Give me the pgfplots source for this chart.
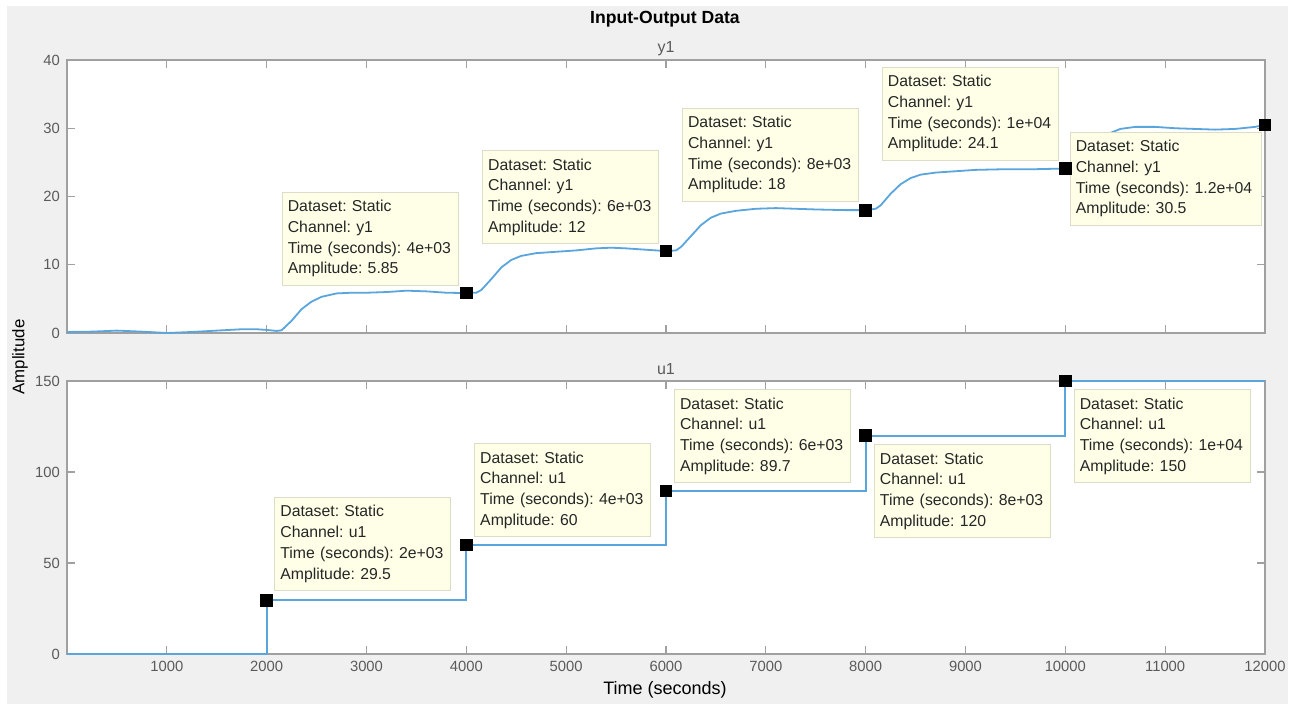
\documentclass[border=0pt]{standalone}
\usepackage{pgfplots}
\pgfplotsset{compat=1.18}
\usepackage{fontspec}
\setmainfont{Liberation Sans}
\frenchspacing
\hfuzz=5pt
\definecolor{figbg}{HTML}{F0F0F0}
\definecolor{axcol}{HTML}{A0A0A0}
\definecolor{tickcol}{HTML}{5A5A5A}
\definecolor{linecol}{HTML}{5AA5DC}
\definecolor{tipbg}{HTML}{FFFFE8}
\definecolor{tipborder}{HTML}{DCDCC8}
\tikzset{
 tip/.style={draw=tipborder, fill=tipbg, line width=0.5pt, anchor=north west,
   text width=82.5pt, minimum width=88pt, minimum height=46.5pt,
   inner xsep=2.75pt, inner ysep=2pt, align=left,
   font=\fontsize{7.9}{10.35}\selectfont, text=black!85},
}
\pgfplotsset{
 every axis title shift=0pt,
 myaxis/.style={
  scale only axis, width=599pt, height=136.5pt,
  xmin=0, xmax=12000,
  xtick={1000,2000,...,12000},
  axis line style={axcol, line width=0.6pt},
  major tick style={axcol, line width=0.6pt},
  major tick length=4pt,
  tick align=inside,
  tick pos=both,
  ticklabel style={font=\fontsize{7.4}{8}\selectfont, text=tickcol},
  /pgf/number format/assume math mode=true,
  scaled x ticks=false,
  scaled y ticks=false,
  xticklabel style={/pgf/number format/1000 sep={}},
  axis background/.style={fill=white},
  clip=false,
  title style={at={(0.5,1)}, anchor=base, yshift=3.5pt, font=\fontsize{8}{9}\selectfont, text=tickcol},
 },
 dmark/.style={only marks, mark=square*, mark size=2.9pt, mark options={fill=black, draw=black}},
}
\begin{document}
\begin{tikzpicture}
\fill[white] (0,0) rectangle (649pt,352pt);
\fill[figbg] (3.5pt,0) rectangle (644pt,349pt);
\node[font=\bfseries\fontsize{8.8}{10}\selectfont, anchor=base] at (332.5pt,340pt) {Input-Output Data};
\node[rotate=90, font=\fontsize{8.4}{10}\selectfont] at (10pt,173.5pt) {Amplitude};
\node[font=\fontsize{9}{10}\selectfont] at (332.5pt,7pt) {Time (seconds)};

\begin{axis}[myaxis, at={(33.5pt,185.5pt)}, anchor=south west,
  ymin=0, ymax=40, ytick={0,10,20,30,40}, xticklabels={}, title={y1}]
\addplot[linecol, line width=0.9pt] coordinates {
(0,0.15) (250,0.2) (500,0.35) (750,0.2) (1000,0.0) (1250,0.15) (1500,0.35)
(1750,0.55) (1900,0.55) (2000,0.45) (2100,0.3) (2150,0.4) (2250,1.8)
(2350,3.5) (2450,4.6) (2550,5.3) (2700,5.8) (2850,5.9) (3000,5.9)
(3200,6.0) (3400,6.2) (3600,6.1) (3800,5.9) (4000,5.85) (4100,5.9)
(4150,6.3) (4250,7.9) (4350,9.6) (4450,10.7) (4550,11.3) (4700,11.7)
(4900,11.9) (5100,12.1) (5300,12.4) (5450,12.5) (5600,12.4) (5800,12.2)
(6000,12.0) (6100,12.1) (6150,12.6) (6250,14.2) (6350,15.8) (6450,16.9)
(6550,17.5) (6700,17.9) (6900,18.2) (7100,18.3) (7300,18.2) (7500,18.1)
(7800,18.0) (8000,18.0) (8100,18.2) (8150,18.7) (8250,20.4) (8350,21.8)
(8450,22.7) (8550,23.2) (8700,23.5) (8900,23.7) (9100,23.9) (9400,24.0)
(9700,24.0) (10000,24.1) (10100,24.3) (10150,24.8) (10250,26.5) (10350,28.1)
(10450,29.3) (10550,29.9) (10700,30.2) (10900,30.2) (11100,30.0) (11300,29.9)
(11500,29.8) (11700,29.9) (11900,30.2) (12000,30.5)
};
\node[tip] at (axis cs:2152,20.7) {Dataset: Static\\Channel: y1\\Time (seconds): 4e+03\\Amplitude: 5.85};
\node[tip] at (axis cs:4159,26.8) {Dataset: Static\\Channel: y1\\Time (seconds): 6e+03\\Amplitude: 12};
\node[tip] at (axis cs:6161,33.0) {Dataset: Static\\Channel: y1\\Time (seconds): 8e+03\\Amplitude: 18};
\node[tip] at (axis cs:8163,39.0) {Dataset: Static\\Channel: y1\\Time (seconds): 1e+04\\Amplitude: 24.1};
\node[tip, text width=90pt, minimum width=95.5pt] at (axis cs:10045,29.5) {Dataset: Static\\Channel: y1\\Time (seconds): 1.2e+04\\Amplitude: 30.5};
\addplot[dmark] coordinates {(4000,5.85) (6000,12) (8000,18) (10000,24.1) (12000,30.5)};
\end{axis}

\begin{axis}[myaxis, at={(33.5pt,25pt)}, anchor=south west,
  ymin=0, ymax=150, ytick={0,50,100,150}, title={u1}]
\addplot[linecol, line width=0.9pt, const plot mark left] coordinates {
(0,0) (2000,29.5) (4000,60) (6000,89.7) (8000,120) (10000,150) (12000,150)
};
\node[tip] at (axis cs:2077,86.3) {Dataset: Static\\Channel: u1\\Time (seconds): 2e+03\\Amplitude: 29.5};
\node[tip] at (axis cs:4079,115.9) {Dataset: Static\\Channel: u1\\Time (seconds): 4e+03\\Amplitude: 60};
\node[tip] at (axis cs:6081,145.6) {Dataset: Static\\Channel: u1\\Time (seconds): 6e+03\\Amplitude: 89.7};
\node[tip] at (axis cs:8083,115.4) {Dataset: Static\\Channel: u1\\Time (seconds): 8e+03\\Amplitude: 120};
\node[tip] at (axis cs:10085,145.6) {Dataset: Static\\Channel: u1\\Time (seconds): 1e+04\\Amplitude: 150};
\addplot[dmark] coordinates {(2000,29.5) (4000,60) (6000,89.7) (8000,120) (10000,150)};
\end{axis}
\end{tikzpicture}
\end{document}
